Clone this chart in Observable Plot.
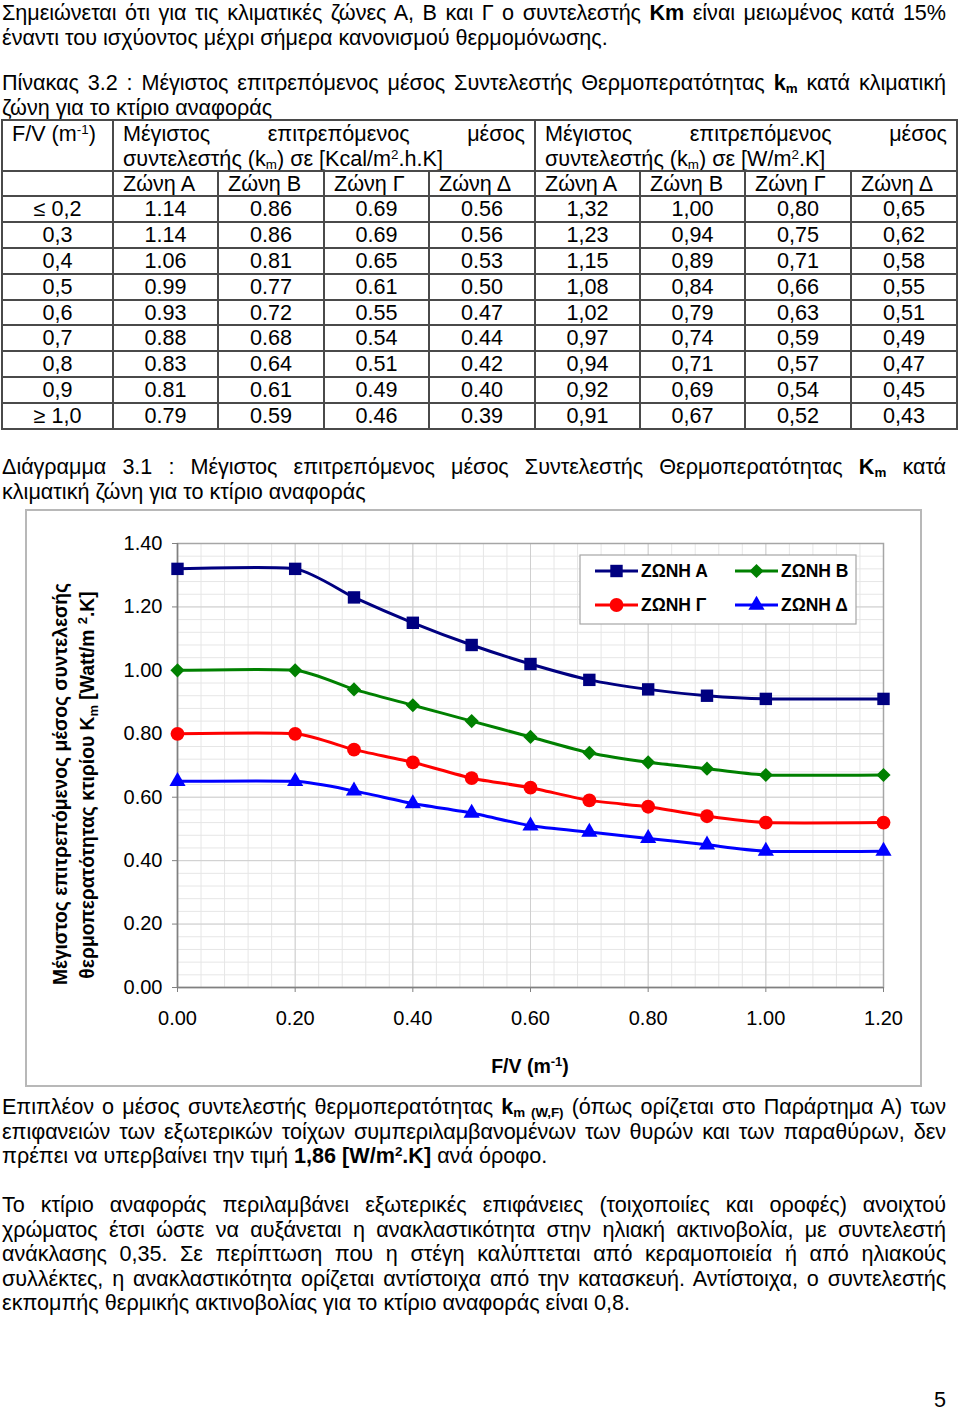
<!DOCTYPE html>
<html><head><meta charset="utf-8">
<script src="https://cdn.jsdelivr.net/npm/d3@7"></script>
<script src="https://cdn.jsdelivr.net/npm/@observablehq/plot@0.6"></script>
<style>
body{margin:0;background:#fff;font-family:"Liberation Sans",Arial,sans-serif;color:#000;}
#page{position:relative;width:960px;height:1412px;overflow:hidden;background:#fff;}
.p{position:absolute;left:2px;width:944px;font-size:21.6px;line-height:24.6px;}
.j{text-align:justify;text-align-last:justify;}
sub,sup{line-height:0;font-size:0.62em;}
sub{vertical-align:-0.2em;}
sup{vertical-align:0.55em;}
.cell{position:absolute;box-sizing:border-box;border:2px solid #4a4a4a;font-size:21.6px;}
.num{display:flex;align-items:center;justify-content:center;}
.zone{display:flex;align-items:center;padding-left:9px;}
.hdr{padding:0 9px 0 9px;line-height:25px;}
.hdr .l1{display:flex;justify-content:space-between;}
#chartbox{position:absolute;left:26px;top:510px;width:895px;height:576px;}
#chartborder{position:absolute;left:25px;top:509px;width:893px;height:574px;border:2px solid #b8b8b8;pointer-events:none;}
#pg{position:absolute;left:900px;width:46px;top:1388px;text-align:right;font-size:21.6px;line-height:24.6px;}
</style></head>
<body>
<div id="page">
  <div class="p" style="top:1px">
    <div class="j">Σημειώνεται ότι για τις κλιματικές ζώνες Α, Β και Γ ο συντελεστής <b>Km</b> είναι μειωμένος κατά 15%</div>
    <div>έναντι του ισχύοντος μέχρι σήμερα κανονισμού θερμομόνωσης.</div>
  </div>
  <div class="p" style="top:71px">
    <div class="j">Πίνακας 3.2 : Μέγιστος επιτρεπόμενος μέσος Συντελεστής Θερμοπερατότητας <b>k<sub>m</sub></b> κατά κλιματική</div>
    <div>ζώνη για το κτίριο αναφοράς</div>
  </div>
  <div id="table"></div>
  <div class="p" style="top:455px">
    <div class="j">Διάγραμμα 3.1 : Μέγιστος επιτρεπόμενος μέσος Συντελεστής Θερμοπερατότητας <b>K<sub>m</sub></b> κατά</div>
    <div>κλιματική ζώνη για το κτίριο αναφοράς</div>
  </div>
  <div id="chartbox"></div>
  <div id="chartborder"></div>
  <div class="p" style="top:1095px">
    <div class="j">Επιπλέον ο μέσος συντελεστής θερμοπερατότητας <b>k<sub>m (W,F)</sub></b> (όπως ορίζεται στο Παράρτημα Α) των</div>
    <div class="j">επιφανειών των εξωτερικών τοίχων συμπεριλαμβανομένων των θυρών και των παραθύρων, δεν</div>
    <div>πρέπει να υπερβαίνει την τιμή <b>1,86 [W/m<sup>2</sup>.K]</b> ανά όροφο.</div>
  </div>
  <div class="p" style="top:1193px">
    <div class="j">Το κτίριο αναφοράς περιλαμβάνει εξωτερικές επιφάνειες (τοιχοποιίες και οροφές) ανοιχτού</div>
    <div class="j">χρώματος έτσι ώστε να αυξάνεται η ανακλαστικότητα στην ηλιακή ακτινοβολία, με συντελεστή</div>
    <div class="j">ανάκλασης 0,35. Σε περίπτωση που η στέγη καλύπτεται από κεραμοποιεία ή από ηλιακούς</div>
    <div class="j">συλλέκτες, η ανακλαστικότητα ορίζεται αντίστοιχα από την κατασκευή. Αντίστοιχα, ο συντελεστής</div>
    <div>εκπομπής θερμικής ακτινοβολίας για το κτίριο αναφοράς είναι 0,8.</div>
  </div>
  <div id="pg">5</div>
</div>
<script>
// ---------- Table data ----------
const fvLabels = ["≤ 0,2","0,3","0,4","0,5","0,6","0,7","0,8","0,9","≥ 1,0"];
const zoneLabels = ["Ζώνη Α","Ζώνη Β","Ζώνη Γ","Ζώνη Δ"];
const kcalA = [1.14,1.14,1.06,0.99,0.93,0.88,0.83,0.81,0.79];
const kcalB = [0.86,0.86,0.81,0.77,0.72,0.68,0.64,0.61,0.59];
const kcalG = [0.69,0.69,0.65,0.61,0.55,0.54,0.51,0.49,0.46];
const kcalD = [0.56,0.56,0.53,0.50,0.47,0.44,0.42,0.40,0.39];
const wattA = [1.32,1.23,1.15,1.08,1.02,0.97,0.94,0.92,0.91];
const wattB = [1.00,0.94,0.89,0.84,0.79,0.74,0.71,0.69,0.67];
const wattG = [0.80,0.75,0.71,0.66,0.63,0.59,0.57,0.54,0.52];
const wattD = [0.65,0.62,0.58,0.55,0.51,0.49,0.47,0.45,0.43];

// ---------- Chart data ----------
const chartFV = [0,0.2,0.3,0.4,0.5,0.6,0.7,0.8,0.9,1.0,1.2];
const chartA = [1.32,1.32,1.23,1.15,1.08,1.02,0.97,0.94,0.92,0.91,0.91];
const chartB = [1.00,1.00,0.94,0.89,0.84,0.79,0.74,0.71,0.69,0.67,0.67];
const chartG = [0.80,0.80,0.75,0.71,0.66,0.63,0.59,0.57,0.54,0.52,0.52];
const chartD = [0.65,0.65,0.62,0.58,0.55,0.51,0.49,0.47,0.45,0.43,0.43];
const seriesNames = ["ΖΩΝΗ Α","ΖΩΝΗ Β","ΖΩΝΗ Γ","ΖΩΝΗ Δ"];
const xTickValues = [0,0.2,0.4,0.6,0.8,1.0,1.2];
const yTickValues = [0,0.2,0.4,0.6,0.8,1.0,1.2,1.4];

// ---------- fit justified lines (shrink letter-spacing only if a line is too long) ----------
document.querySelectorAll(".j").forEach(div => {
  const avail = div.clientWidth - 2;
  const s = document.createElement("span");
  s.style.whiteSpace = "nowrap";
  while (div.firstChild) s.appendChild(div.firstChild);
  div.appendChild(s);
  const w = s.getBoundingClientRect().width;
  while (s.firstChild) div.appendChild(s.firstChild);
  div.removeChild(s);
  if (w > avail) {
    const n = div.textContent.length;
    div.style.letterSpacing = ((avail - w) / n - 0.02) + "px";
  }
});

// ---------- Table layout ----------
const colX = [2,113,218,324,429,535,640,745,851,957];
const rowY = [120,171,196];
for (let i = 1; i <= 9; i++) rowY.push(Math.round(196 + i * (429 - 196) / 9));
const tbl = document.getElementById("table");
function cell(c0, c1, r0, r1, cls, html) {
  const d = document.createElement("div");
  d.className = "cell " + cls;
  d.style.left = (colX[c0] - 1) + "px";
  d.style.top = (rowY[r0] - 1) + "px";
  d.style.width = (colX[c1] - colX[c0] + 2) + "px";
  d.style.height = (rowY[r1] - rowY[r0] + 2) + "px";
  d.innerHTML = html;
  tbl.appendChild(d);
}
cell(0,1,0,1,"hdr","F/V (m<sup>-1</sup>)");
cell(1,5,0,1,"hdr",'<div class="l1"><span>Μέγιστος</span><span>επιτρεπόμενος</span><span>μέσος</span></div><div>συντελεστής (k<sub>m</sub>) σε [Kcal/m<sup>2</sup>.h.K]</div>');
cell(5,9,0,1,"hdr",'<div class="l1"><span>Μέγιστος</span><span>επιτρεπόμενος</span><span>μέσος</span></div><div>συντελεστής (k<sub>m</sub>) σε [W/m<sup>2</sup>.K]</div>');
cell(0,1,1,2,"zone","");
for (let g = 0; g < 2; g++) zoneLabels.forEach((z,i) => cell(1+g*4+i, 2+g*4+i, 1, 2, "zone", z));
const kcalCols = [kcalA,kcalB,kcalG,kcalD];
const wattCols = [wattA,wattB,wattG,wattD];
fvLabels.forEach((lab, r) => {
  cell(0,1,2+r,3+r,"num",lab);
  kcalCols.forEach((col,i) => cell(1+i,2+i,2+r,3+r,"num",col[r].toFixed(2)));
  wattCols.forEach((col,i) => cell(5+i,6+i,2+r,3+r,"num",col[r].toFixed(2).replace(".",",")));
});

// ---------- Chart ----------
const seriesColors = ["#000080","#008000","#ff0000","#0000ff"];
const seriesSymbols = ["square","diamond2","circle","triangle"];
const seriesR = [7.0,6.4,6.9,6.0];
const seriesVals = [chartA,chartB,chartG,chartD];
const rows = [];
seriesVals.forEach((vals,i) => vals.forEach((v,j) => rows.push({zone: seriesNames[i], fv: chartFV[j], k: v})));

const minorX = d3.range(0,31).map(i => i*0.04);
const minorY = d3.range(0,36).map(i => i*0.04);

const W = 895, H = 576, ML = 151, MR = 38, MT = 33, MB = 99;
const FONT = "'Liberation Sans', Arial, sans-serif";
const marks = [
  Plot.ruleX(minorX, {stroke:"#e6e6e6", strokeWidth:1}),
  Plot.ruleY(minorY, {stroke:"#e6e6e6", strokeWidth:1}),
  Plot.ruleX(xTickValues, {stroke:"#cfcfcf", strokeWidth:1}),
  Plot.ruleY(yTickValues, {stroke:"#cfcfcf", strokeWidth:1}),
  Plot.frame({stroke:"#a6a6a6", strokeWidth:1.5}),
  Plot.ruleX([0], {stroke:"#808080", strokeWidth:1.5}),
  Plot.ruleY([0], {stroke:"#808080", strokeWidth:1.5}),
  Plot.axisX({ticks:xTickValues, tickFormat:d=>d.toFixed(2), tickSize:5, tickPadding:18, stroke:"#808080", fill:"#000", fontSize:20, label:null}),
  Plot.axisY({ticks:yTickValues, tickFormat:d=>d.toFixed(2), tickSize:5, tickPadding:10, stroke:"#808080", fill:"#000", fontSize:20, label:null})
];
seriesNames.forEach((name,i) => {
  const data = rows.filter(d => d.zone === name);
  marks.push(Plot.line(data, {x:"fv", y:"k", stroke:seriesColors[i], strokeWidth:3, curve:"cardinal", tension:0.4}));
});
seriesNames.forEach((name,i) => {
  const data = rows.filter(d => d.zone === name);
  marks.push(Plot.dot(data, {x:"fv", y:"k", symbol:seriesSymbols[i], r:seriesR[i], fill:seriesColors[i], stroke:"none"}));
});

const chart = Plot.plot({
  width: W, height: H,
  marginLeft: ML, marginRight: MR, marginTop: MT, marginBottom: MB,
  x: {domain:[0,1.2]},
  y: {domain:[0,1.4]},
  style: {fontFamily:FONT, fontSize:"20px", color:"#000", background:"transparent", overflow:"visible"},
  marks
});
document.getElementById("chartbox").appendChild(chart);

// axis titles and legend
const svg = d3.select(chart);
const yl = svg.append("g").attr("font-family",FONT).attr("font-weight","bold").attr("font-size",19.3).attr("fill","#000");
yl.append("text").attr("transform","translate(41,274) rotate(-90)").attr("text-anchor","middle")
  .text("Μέγιστος επιτρεπόμενος μέσος συντελεσής");
const t2 = yl.append("text").attr("transform","translate(68,275) rotate(-90)").attr("text-anchor","middle");
t2.append("tspan").text("θερμοπερατότητας κτιρίου K");
t2.append("tspan").attr("font-size",13).attr("dy",4).text("m");
t2.append("tspan").attr("dy",-4).text(" [Watt/m ");
t2.append("tspan").attr("font-size",13).attr("dy",-7).text("2");
t2.append("tspan").attr("dy",7).text(".K]");

const xl = svg.append("text").attr("font-family",FONT).attr("font-weight","bold").attr("font-size",19.5)
  .attr("x",504).attr("y",563).attr("text-anchor","middle").attr("fill","#000");
xl.append("tspan").text("F/V (m");
xl.append("tspan").attr("font-size",13).attr("dy",-7).text("-1");
xl.append("tspan").attr("dy",7).text(")");

const lg = svg.append("g");
lg.append("rect").attr("x",554).attr("y",45).attr("width",276).attr("height",69).attr("fill","#fff").attr("stroke","#a6a6a6").attr("stroke-width",1.2);
const d3sym = {square:d3.symbolSquare, diamond2:d3.symbolDiamond2, circle:d3.symbolCircle, triangle:d3.symbolTriangle};
seriesNames.forEach((name,i) => {
  const cx = i % 2 === 0 ? 569 : 709;
  const cy = i < 2 ? 61 : 95;
  lg.append("line").attr("x1",cx).attr("x2",cx+43).attr("y1",cy).attr("y2",cy).attr("stroke",seriesColors[i]).attr("stroke-width",3);
  lg.append("path").attr("transform",`translate(${cx+21.5},${cy})`)
    .attr("d", d3.symbol().type(d3sym[seriesSymbols[i]]).size(seriesR[i]*seriesR[i]*Math.PI)())
    .attr("fill",seriesColors[i]);
  lg.append("text").attr("x",cx+46).attr("y",cy+6).attr("text-anchor","start").attr("font-family",FONT)
    .attr("font-weight","bold").attr("font-size",17.5).attr("fill","#000").text(name);
});
</script>
</body></html>
